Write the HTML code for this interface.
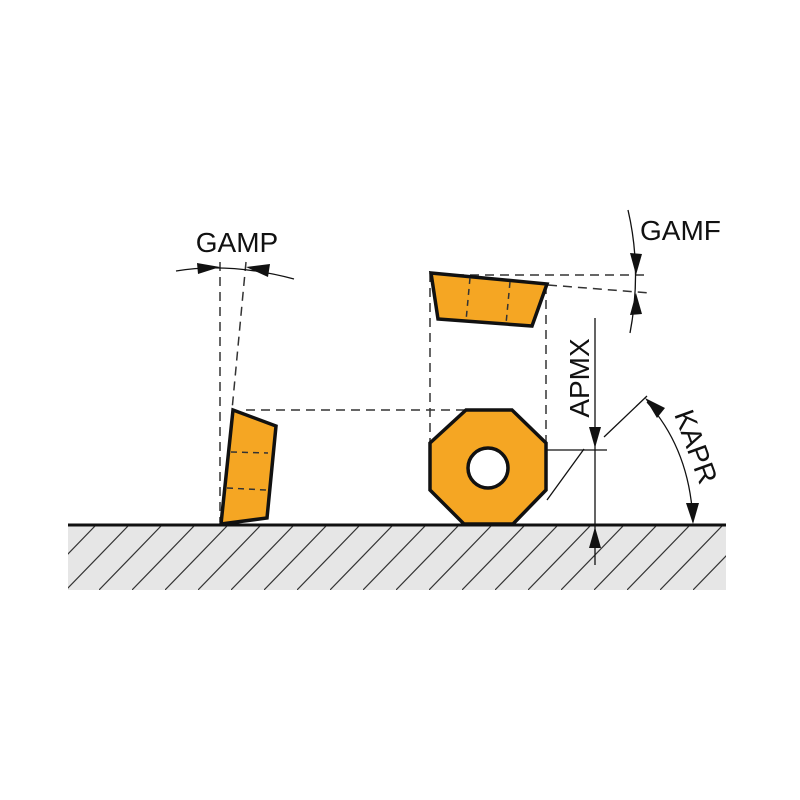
<!DOCTYPE html>
<html><head><style>body{margin:0;background:#fff}svg{display:block}</style></head><body>
<svg width="800" height="800" viewBox="0 0 800 800" xmlns="http://www.w3.org/2000/svg" font-family="Liberation Sans, sans-serif">
<defs>
<pattern id="h" width="33" height="65" patternUnits="userSpaceOnUse" x="0" y="525">
<line x1="-33" y1="65" x2="30" y2="0" stroke="#333" stroke-width="1.2"/>
<line x1="0" y1="65" x2="63" y2="0" stroke="#333" stroke-width="1.2"/>
</pattern>
<clipPath id="c"><rect x="68" y="525" width="658" height="65"/></clipPath>
</defs>
<rect x="68" y="525" width="658" height="65" fill="#e6e6e6"/>
<rect x="68" y="525" width="658" height="65" fill="url(#h)" clip-path="url(#c)"/>
<line x1="68" y1="525" x2="726" y2="525" stroke="#111" stroke-width="3"/>

<g stroke="#333" stroke-width="1.5" stroke-dasharray="9,6" fill="none">
<line x1="220" y1="262" x2="220" y2="522"/>
<line x1="246" y1="262" x2="232" y2="410"/>
<line x1="246" y1="410" x2="466" y2="410"/>
<line x1="430" y1="273" x2="430" y2="442"/>
<line x1="546" y1="285" x2="546" y2="450"/>
<line x1="440" y1="275" x2="650" y2="275"/>
<line x1="548" y1="285" x2="650" y2="293"/>
</g>

<polygon points="233,410 276,426 267,518 221,524" fill="#f5a623" stroke="#111" stroke-width="3.5" stroke-linejoin="miter"/>
<polygon points="431,273 547,284 532,326 438,319" fill="#f5a623" stroke="#111" stroke-width="3.5"/>
<g stroke="#333" stroke-width="1.5" stroke-dasharray="6,5">
<line x1="231" y1="452" x2="268" y2="453"/>
<line x1="227" y1="488" x2="266" y2="490"/>
<line x1="470" y1="278" x2="466" y2="321"/>
<line x1="510" y1="282" x2="506" y2="324"/>
</g>
<polygon points="466,410 512,410 546,443 546,490 513,524 464,524 430,490 430,443" fill="#f5a623" stroke="#111" stroke-width="3.5"/>
<circle cx="488" cy="468" r="20" fill="#fff" stroke="#111" stroke-width="3.5"/>

<text x="237" y="252" font-size="28" text-anchor="middle" fill="#111">GAMP</text>
<path d="M176,271 Q230,262 294,279" stroke="#111" stroke-width="1.3" fill="none"/>
<polygon points="220,267 197,263 198,274" fill="#111"/>
<polygon points="246,267 270,264 268,277" fill="#111"/>

<text x="640" y="240" font-size="28" fill="#111">GAMF</text>
<path d="M628,210 Q642,270 630,333" stroke="#111" stroke-width="1.3" fill="none"/>
<polygon points="636,275 630,253 642,254" fill="#111"/>
<polygon points="636,293 630,315 642,314" fill="#111"/>

<line x1="595" y1="318" x2="595" y2="565" stroke="#111" stroke-width="1.3"/>
<line x1="546" y1="450" x2="607" y2="450" stroke="#111" stroke-width="1.3"/>
<polygon points="595,448 589,427 601,427" fill="#111"/>
<polygon points="595,527 589,548 601,548" fill="#111"/>
<text transform="translate(589,378) rotate(-90)" font-size="28" text-anchor="middle" fill="#111">APMX</text>
<line x1="547" y1="500" x2="584" y2="449" stroke="#111" stroke-width="1.3"/>
<line x1="604" y1="437" x2="647" y2="396" stroke="#111" stroke-width="1.3"/>

<path d="M647,402 Q690,450 693,522" stroke="#111" stroke-width="1.3" fill="none"/>
<polygon points="645,398 665,408 657,418" fill="#111"/>
<polygon points="693,524 686,503 699,503" fill="#111"/>
<text transform="translate(687,450) rotate(70)" font-size="28" text-anchor="middle" fill="#111">KAPR</text>
</svg>
</body></html>
